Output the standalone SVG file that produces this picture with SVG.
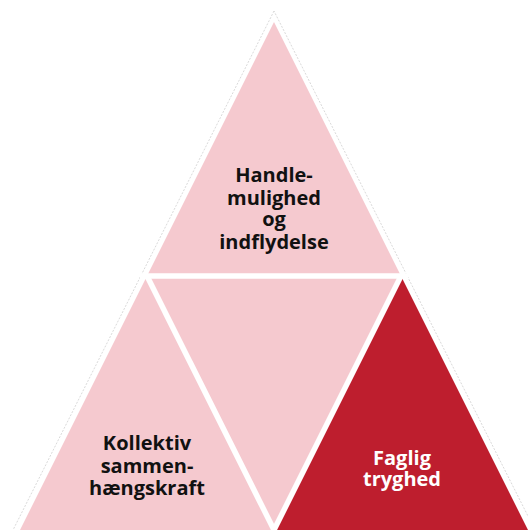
<svg xmlns="http://www.w3.org/2000/svg" width="528" height="530" viewBox="0 0 528 530">
<style>
.light{fill:#F5C9CF}
.dark{fill:#BE1E2E}
.gap{stroke:#fff;stroke-width:5.5;fill:none}
.t{font-family:"Open Sans","Liberation Sans",sans-serif;font-weight:bold;font-size:20px;text-anchor:middle}
.tb{fill:#111}
.tw{fill:#fff}
</style>
<rect width="528" height="530" fill="#fff"/>
<polygon points="274,11 8,540 540,540" fill="none" stroke="#c8c8c8" stroke-width="0.7" stroke-dasharray="2 1.5"/>
<g id="top"><polygon class="light" points="274,22 147,276 401,276"/></g>
<g id="middle"><polygon class="light" points="147,276 401,276 274,530"/></g>
<g id="left"><polygon class="light" points="147,276 20,530 274,530"/></g>
<g id="right"><polygon class="dark" points="401,276 274,530 528,530"/></g>
<g id="connectors">
<line class="gap" x1="140" y1="276" x2="408" y2="276"/>
<line class="gap" x1="147" y1="276" x2="276" y2="534"/>
<line class="gap" x1="401" y1="276" x2="272" y2="534"/>
</g>
<g id="label-top">
<text class="t tb" x="274" y="182">Handle-</text>
<text class="t tb" x="274" y="205">mulighed</text>
<text class="t tb" x="274" y="226">og</text>
<text class="t tb" x="274" y="249">indflydelse</text>
</g>
<g id="label-left">
<text class="t tb" x="147" y="450">Kollektiv</text>
<text class="t tb" x="147" y="473">sammen-</text>
<text class="t tb" x="147" y="495">hængskraft</text>
</g>
<g id="label-right">
<text class="t tw" x="402" y="465">Faglig</text>
<text class="t tw" x="402" y="486">tryghed</text>
</g>
</svg>
